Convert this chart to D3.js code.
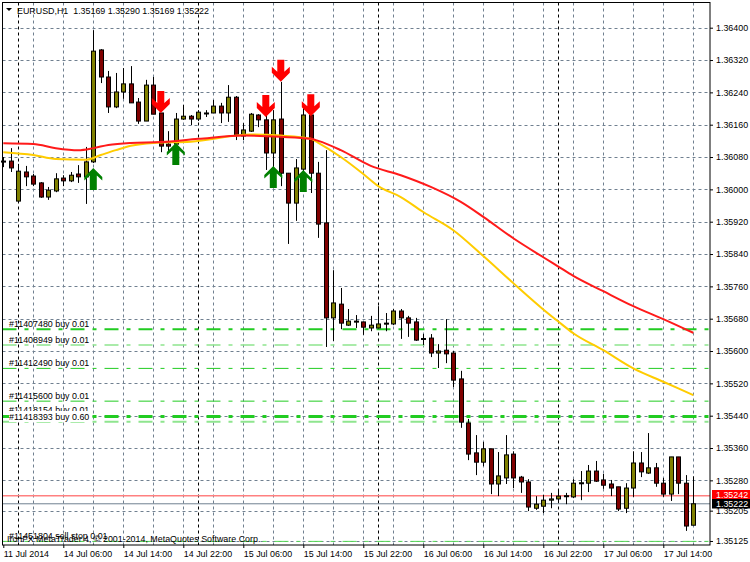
<!DOCTYPE html>
<html><head><meta charset="utf-8">
<script src="https://cdn.jsdelivr.net/npm/d3@7"></script>
<style>html,body{margin:0;padding:0;background:#fff}svg{display:block}text{font-family:"Liberation Sans",Arial,sans-serif;fill:#000}</style>
</head><body><svg id="c" width="750" height="562"></svg>
<script>
const symbolTitle="EURUSD,H1  1.35169 1.35290 1.35169 1.35222";
const footerText="IronFX MetaTrader 4, © 2001-2014, MetaQuotes Software Corp.";
const opens=[136070,136070,135971,136043,136033,136016,135981,135996,136028,136021,136038,136031,136068,136345,136278,136204,136241,136261,136216,136169,136258,136189,136112,136112,136174,136181,136174,136187,136189,136206,136189,136228,136132,136144,136184,136172,136090,136174,136040,135966,136050,136184,136040,135917,135682,135716,135664,135672,135672,135657,135657,135667,135667,135699,135682,135672,135630,135632,135595,135602,135595,135531,135422,135348,135325,135358,135271,135286,135345,135288,135276,135211,135216,135231,135234,135241,135239,135273,135273,135303,135281,135271,135264,135211,135261,135323,135298,135311,135273,135246,135338,135273,135169];
const highs=[136080,136102,136063,136058,136038,136018,136006,136040,136035,136043,136060,136105,136394,136347,136293,136288,136300,136305,136226,136271,136278,136189,136144,136189,136209,136184,136196,136196,136221,136214,136258,136231,136164,136189,136186,136206,136196,136266,136040,136075,136201,136191,136068,136097,135800,135756,135704,135689,135672,135687,135711,135694,135704,135704,135687,135682,135642,135642,135617,135679,135600,135551,135432,135392,135375,135358,135350,135392,135352,135291,135283,135241,135244,135249,135254,135249,135283,135303,135318,135328,135296,135281,135264,135273,135352,135350,135397,135323,135286,135338,135338,135293,135290];
const lows=[136055,136043,135971,136008,136008,135979,135974,135993,136008,136018,136016,135964,136065,136263,136189,136201,136224,136214,136162,136169,136186,136092,136092,136110,136172,136159,136169,136179,136189,136164,136167,136122,136122,136142,136154,136048,136003,136008,135865,135922,136028,135991,135880,135610,135625,135654,135662,135657,135640,135649,135657,135649,135664,135630,135635,135625,135615,135585,135558,135570,135511,135410,135330,135293,135315,135246,135241,135271,135261,135249,135204,135207,135199,135211,135224,135221,135236,135231,135251,135276,135259,135241,135204,135199,135239,135288,135296,135264,135239,135229,135246,135155,135169];
const closes=[136068,136053,136045,136031,136013,135981,135998,136026,136021,136035,136031,136068,136342,136278,136204,136241,136261,136214,136169,136258,136186,136107,136107,136174,136181,136174,136191,136189,136206,136189,136228,136134,136147,136186,136172,136090,136172,136040,135966,136053,136184,136040,135914,135682,135719,135669,135674,135674,135659,135664,135667,135669,135699,135682,135669,135627,135631,135595,135600,135593,135528,135424,135345,135325,135358,135271,135291,135343,135286,135276,135214,135221,135231,135234,135241,135242,135273,135274,135303,135278,135268,135261,135209,135261,135323,135301,135311,135273,135246,135338,135273,135167,135222];

const redMaIdx=[0,4,7,10,12,14,17,21,26,32,37,41,42,45,49,53,57,61,64,68,72,74,76,80,84,88,92];
const redMaVal=[136114,136112,136102,136097,136102,136110,136115,136117,136125,136133,136130,136125,136120,136097,136058,136035,136006,135969,135932,135879,135832,135809,135786,135748,135711,135679,135645];
const goldMaIdx=[0,4,7,11,13,15,17,20,25,33,37,41,42,45,48,50,53,56,60,64,68,72,74,76,80,84,88,92];
const goldMaVal=[136092,136085,136075,136073,136085,136097,136108,136115,136118,136136,136133,136125,136115,136080,136038,136008,135981,135944,135899,135835,135768,135703,135673,135644,135602,135557,135524,135491];

const upArrowIdx=[12,23,36,40];
const upArrowVal=[136053,136115,136058,136048];
const downArrowIdx=[21,35,37,41];
const downArrowVal=[136189,136179,136266,136181];

const orderNames=["#11407480 buy 0.01","#11408949 buy 0.01","#11412490 buy 0.01","#11415600 buy 0.01","#11418154 buy 0.01","#11418393 buy 0.60","#11451804 sell stop 0.01"];
const orderPrices=[135654,135615,135557,135476,135425,135438,135129];
const orderWeights=[2,1.6,1,1,2,3,1];
const orderColors=["#22cc22","#8fe58f","#22cc22","#22cc22","#8fe58f","#22cc22","#55d855"];
const orderLabelY=[135667,135627,135570,135489,135454,135438,135144];

const gridPrices=[136400,136320,136240,136160,136080,136000,135920,135840,135760,135680,135600,135520,135440,135360,135280,135205,135130];
const tickLabels=["1.36400","1.36320","1.36240","1.36160","1.36080","1.36000","1.35920","1.35840","1.35760","1.35680","1.35600","1.35520","1.35440","1.35360","1.35280","1.35205","1.35125"];
const timeIdx=[0,8,16,24,32,40,48,56,64,72,80,88];
const timeLabels=["11 Jul 2014","14 Jul 06:00","14 Jul 14:00","14 Jul 22:00","15 Jul 06:00","15 Jul 14:00","15 Jul 22:00","16 Jul 06:00","16 Jul 14:00","16 Jul 22:00","17 Jul 06:00","17 Jul 14:00"];
const minorGridIdx=[4,8,12,16,20,24,28,32,36,40,44,48,52,56,60,64,68,72,76,80,84,88,92];
const dayIdx=[2,26,50,74];
const askLine=135242, bidLine=135222;

const x=d3.scaleLinear().domain([0,92]).range([3.3,693.3]);
const y=d3.scaleLinear().domain([136400,135125]).range([27.7,543]);
const svg=d3.select("#c");
const F=d=>(d/1e5).toFixed(5);
const L=2.5,R=710,T=2.5,B=545;
const FS=8.9;

const grid=svg.append("g").attr("fill","none").attr("stroke-width",1);
grid.selectAll(".h").data(gridPrices).join("line")
 .attr("x1",L).attr("x2",R).attr("y1",d=>Math.round(y(d))+.5).attr("y2",d=>Math.round(y(d))+.5)
 .attr("stroke","#708090").attr("stroke-dasharray","3,3");
grid.selectAll(".v").data(minorGridIdx).join("line")
 .attr("x1",d=>Math.round(x(d))+.5).attr("x2",d=>Math.round(x(d))+.5).attr("y1",T).attr("y2",B)
 .attr("stroke","#708090").attr("stroke-dasharray","3,3");
grid.selectAll(".d").data(dayIdx).join("line")
 .attr("x1",d=>Math.round(x(d))+.5).attr("x2",d=>Math.round(x(d))+.5).attr("y1",T).attr("y2",B)
 .attr("stroke","#000").attr("stroke-dasharray","3,3");

const orders=svg.append("g");
orders.selectAll("line").data(orderPrices).join("line")
 .attr("x1",L).attr("x2",R).attr("y1",d=>y(d)).attr("y2",d=>y(d))
 .attr("stroke",(d,i)=>orderColors[i]).attr("stroke-width",(d,i)=>orderWeights[i])
 .attr("stroke-dasharray","14,8,4,8");

svg.append("line").attr("x1",L).attr("x2",R).attr("y1",y(askLine)).attr("y2",y(askLine)).attr("stroke","#ff8080").attr("stroke-width",1.6);
svg.append("line").attr("x1",L).attr("x2",R).attr("y1",y(bidLine)).attr("y2",y(bidLine)).attr("stroke","#708090").attr("stroke-width",1);

const cg=svg.append("g");
const idx=d3.range(opens.length);
cg.selectAll(".w").data(idx).join("line")
 .attr("x1",i=>Math.round(x(i))+.5).attr("x2",i=>Math.round(x(i))+.5)
 .attr("y1",i=>y(highs[i])).attr("y2",i=>y(lows[i])).attr("stroke","#000").attr("stroke-width",1);
cg.selectAll(".b").data(idx).join("rect")
 .attr("x",i=>Math.round(x(i))-1.5).attr("width",4)
 .attr("y",i=>y(Math.max(opens[i],closes[i])))
 .attr("height",i=>Math.max(1,Math.abs(y(opens[i])-y(closes[i]))))
 .attr("fill",i=>closes[i]>=opens[i]?"#808000":"#800000")
 .attr("stroke","#000").attr("stroke-width",1);

const ml=d3.line().x(d=>x(d[0])).y(d=>y(d[1])).curve(d3.curveMonotoneX);
svg.append("path").attr("d",ml(d3.zip(goldMaIdx,goldMaVal))).attr("fill","none").attr("stroke","#ffcc00").attr("stroke-width",2);
svg.append("path").attr("d",ml(d3.zip(redMaIdx,redMaVal))).attr("fill","none").attr("stroke","#ff1a1a").attr("stroke-width",2);

const arrowUp="M0,0L9,9L9,12.5L3.5,7.5L3.5,22L-3.5,22L-3.5,7.5L-9,12.5L-9,9Z";
const arrowDown="M0,0L9,-9L9,-15L3.5,-10L3.5,-22L-3.5,-22L-3.5,-10L-9,-15L-9,-9Z";
svg.append("g").selectAll("path").data(d3.zip(upArrowIdx,upArrowVal)).join("path")
 .attr("d",arrowUp).attr("transform",d=>`translate(${x(d[0])},${y(d[1])})`).attr("fill","#008000");
svg.append("g").selectAll("path").data(d3.zip(downArrowIdx,downArrowVal)).join("path")
 .attr("d",arrowDown).attr("transform",d=>`translate(${x(d[0])},${y(d[1])})`).attr("fill","#ff0000");

const ol=svg.append("g").attr("font-size",FS);
ol.selectAll("text").data(orderNames).join("text")
 .attr("x",9).attr("y",(d,i)=>y(orderLabelY[i])+3.2).text(d=>d);
ol.append("rect").attr("x",9).attr("width",82).attr("y",y(135438)-5.5).attr("height",11).attr("fill","#fff");
ol.selectAll("text").filter((d,i)=>i==5).raise();

svg.append("rect").attr("x",L).attr("y",T).attr("width",R-L).attr("height",B-T).attr("fill","none").attr("stroke","#000");

const yAxis=d3.axisRight(y).tickValues(gridPrices).tickSize(3).tickPadding(3).tickFormat((d,i)=>tickLabels[i]);
const ya=svg.append("g").attr("transform",`translate(${R},0)`).call(yAxis);
ya.select(".domain").remove();
ya.selectAll("text").attr("font-size",FS).attr("font-family",'"Liberation Sans"');
const xAxis=d3.axisBottom(x).tickValues(timeIdx).tickSize(3).tickPadding(3).tickFormat((d,i)=>timeLabels[i]);
const xa=svg.append("g").attr("transform",`translate(0,${B})`).call(xAxis);
xa.select(".domain").remove();
xa.selectAll("text").attr("font-size",FS).attr("font-family",'"Liberation Sans"').attr("text-anchor","start");

const boxes=[[askLine,"#ff0000",490],[bidLine,"#000000",499]];
boxes.forEach(([v,c,t])=>{
 svg.append("rect").attr("x",712).attr("width",38).attr("y",t).attr("height",9.5).attr("fill",c);
 svg.append("text").attr("x",716).attr("y",t+8).attr("font-size",FS).style("fill","#fff").text(F(v));
});

svg.append("path").attr("d","M6,8H12L9,11Z").attr("fill","#000");
svg.append("text").attr("x",17).attr("y",13.5).attr("font-size",FS).text(symbolTitle).style("white-space","pre");
svg.append("text").attr("x",7).attr("y",541.5).attr("font-size",FS).text(footerText);
</script></body></html>
